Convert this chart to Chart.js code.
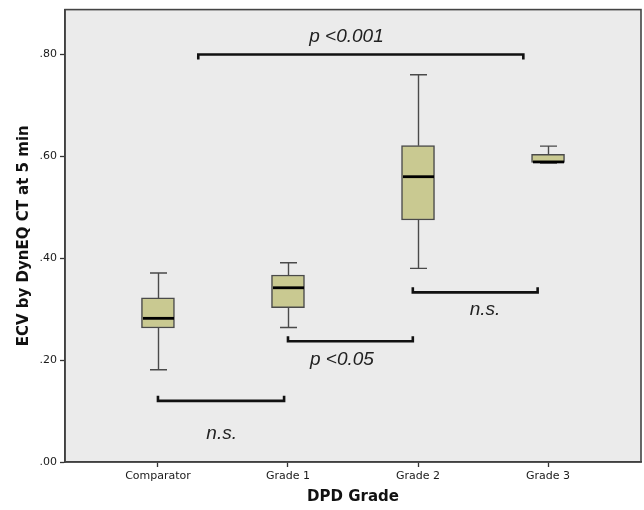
<!DOCTYPE html>
<html>
<head>
<meta charset="utf-8">
<script src="https://cdn.jsdelivr.net/npm/chart.js@4"></script>
<style>
  body { margin: 0; background: #fff; }
  canvas { display: block; }
</style>
</head>
<body>
<canvas id="mainCanvas" width="644" height="510"></canvas>
<script>
// categories and box plot summaries
const categories = ["Comparator", "Grade 1", "Grade 2", "Grade 3"];
const whiskerLow = [0.181, 0.264, 0.380, 0.587];
const quartile1 = [0.263, 0.303, 0.475, 0.588];
const medians = [0.282, 0.342, 0.560, 0.589];
const quartile3 = [0.322, 0.367, 0.621, 0.604];
const whiskerHigh = [0.371, 0.391, 0.760, 0.620];

const yTicks = [0, 0.2, 0.4, 0.6, 0.8];

// significance brackets (x in category units, y in ECV units)
const bracketFrom = [0.31, 0.0, 1.0, 1.96];
const bracketTo = [2.81, 0.97, 1.96, 2.92];
const bracketY = [0.80, 0.12, 0.237, 0.333];
const bracketHookDown = [true, false, false, false];
const bracketText = ["p <0.001", "n.s.", "p <0.05", "n.s."];
const bracketTextX = [1.45, 0.49, 1.415, 2.515];
const bracketTextY = [0.834, 0.055, 0.2, 0.298];

const BOX_WIDTH = 33;
const CAP_WIDTH = 17;

/**
 * Fills the plot area and outlines it
 */
const plotFrame = {
  id: "plotFrame",
  beforeDraw(chart) {
    const {ctx, chartArea: a} = chart;
    ctx.save();
    ctx.fillStyle = "#ebebeb";
    ctx.fillRect(a.left, a.top, a.right - a.left, a.bottom - a.top);
    ctx.restore();
  },
  afterDraw(chart) {
    const {ctx, chartArea: a} = chart;
    ctx.save();
    ctx.strokeStyle = "#444";
    ctx.lineWidth = 1.6;
    ctx.strokeRect(a.left, a.top, a.right - a.left, a.bottom - a.top);
    ctx.restore();
  },
};

/**
 * Whiskers under the boxes, medians and brackets over them
 */
const boxExtras = {
  id: "boxExtras",
  beforeDatasetsDraw(chart) {
    const {ctx, scales: {x, y}} = chart;
    ctx.save();
    ctx.strokeStyle = "#4a4a4a";
    ctx.lineWidth = 1.4;
    categories.forEach((c, i) => {
      const cx = Math.round(x.getPixelForValue(i)) + 0.5;
      ctx.beginPath();
      ctx.moveTo(cx, y.getPixelForValue(whiskerHigh[i]));
      ctx.lineTo(cx, y.getPixelForValue(quartile3[i]));
      ctx.moveTo(cx, y.getPixelForValue(quartile1[i]));
      ctx.lineTo(cx, y.getPixelForValue(whiskerLow[i]));
      [whiskerHigh[i], whiskerLow[i]].forEach(v => {
        const py = y.getPixelForValue(v);
        ctx.moveTo(cx - CAP_WIDTH / 2, py);
        ctx.lineTo(cx + CAP_WIDTH / 2, py);
      });
      ctx.stroke();
    });
    ctx.restore();
  },
  afterDatasetsDraw(chart) {
    const {ctx, scales: {x, y}} = chart;
    ctx.save();
    ctx.strokeStyle = "#000";
    ctx.lineWidth = 2.8;
    categories.forEach((c, i) => {
      const cx = Math.round(x.getPixelForValue(i)) + 0.5;
      const py = y.getPixelForValue(medians[i]);
      ctx.beginPath();
      ctx.moveTo(cx - BOX_WIDTH / 2 + 1, py);
      ctx.lineTo(cx + BOX_WIDTH / 2 - 1, py);
      ctx.stroke();
    });

    ctx.lineWidth = 2.6;
    ctx.strokeStyle = "#111";
    bracketText.forEach((t, i) => {
      const x0 = x.getPixelForValue(bracketFrom[i]);
      const x1 = x.getPixelForValue(bracketTo[i]);
      const py = y.getPixelForValue(bracketY[i]);
      const hook = bracketHookDown[i] ? 5 : -5;
      ctx.beginPath();
      ctx.moveTo(x0, py + hook);
      ctx.lineTo(x0, py);
      ctx.lineTo(x1, py);
      ctx.lineTo(x1, py + hook);
      ctx.stroke();

      ctx.fillStyle = "#222";
      ctx.font = "italic 19px 'Liberation Sans', Arial, sans-serif";
      ctx.textAlign = "center";
      ctx.textBaseline = "middle";
      ctx.fillText(t, x.getPixelForValue(bracketTextX[i]), y.getPixelForValue(bracketTextY[i]));
    });
    ctx.restore();
  },
};

(function main() {
  const ctx = document.getElementById("mainCanvas").getContext("2d");

  const boxes = categories.map((c, i) => ({x: i, y: [quartile1[i], quartile3[i]]}));

  new Chart(ctx, {
    type: "bar",
    data: {
      datasets: [{
        data: boxes,
        backgroundColor: "#c9c991",
        borderColor: "#4a4a4a",
        borderWidth: 1.5,
        borderSkipped: false,
        barThickness: BOX_WIDTH,
      }],
    },
    options: {
      responsive: false,
      animation: false,
      layout: { padding: { top: 9, right: 3, left: 0, bottom: 0 } },
      plugins: {
        legend: { display: false },
        tooltip: { enabled: false },
      },
      scales: {
        x: {
          type: "linear",
          min: -0.715,
          max: 3.715,
          offset: false,
          afterFit(scale) { scale.height = 48; },
          afterBuildTicks(scale) {
            scale.ticks = categories.map((c, i) => ({value: i}));
          },
          grid: { offset: false, drawOnChartArea: false, tickLength: 5, color: "#333", tickWidth: 1.3 },
          border: { display: true, color: "#333", width: 1.6 },
          ticks: {
            padding: 3,
            color: "#1a1a1a",
            font: { family: "'DejaVu Sans', sans-serif", size: 11 },
            callback(value) { return categories[value] ?? ""; },
          },
          title: {
            display: true,
            text: "DPD Grade",
            color: "#111",
            font: { family: "'DejaVu Sans', sans-serif", size: 15, weight: "bold" },
            padding: { top: 2, bottom: 4 },
          },
        },
        y: {
          min: 0,
          max: 0.888,
          afterFit(scale) { scale.width = 65; },
          afterBuildTicks(scale) {
            scale.ticks = yTicks.map(v => ({value: v}));
          },
          grid: { drawOnChartArea: false, tickLength: 5, color: "#333", tickWidth: 1.3 },
          border: { display: true, color: "#333", width: 1.6 },
          ticks: {
            padding: 3,
            color: "#1a1a1a",
            font: { family: "'DejaVu Sans', sans-serif", size: 11 },
            callback(value) { return value.toFixed(2).replace(/^0/, ""); },
          },
          title: {
            display: true,
            text: "ECV by DynEQ CT at 5 min",
            color: "#111",
            font: { family: "'DejaVu Sans', sans-serif", size: 15, weight: "bold" },
            padding: { top: 15, bottom: 0 },
          },
        },
      },
    },
    plugins: [plotFrame, boxExtras],
  });
})();
</script>
</body>
</html>
